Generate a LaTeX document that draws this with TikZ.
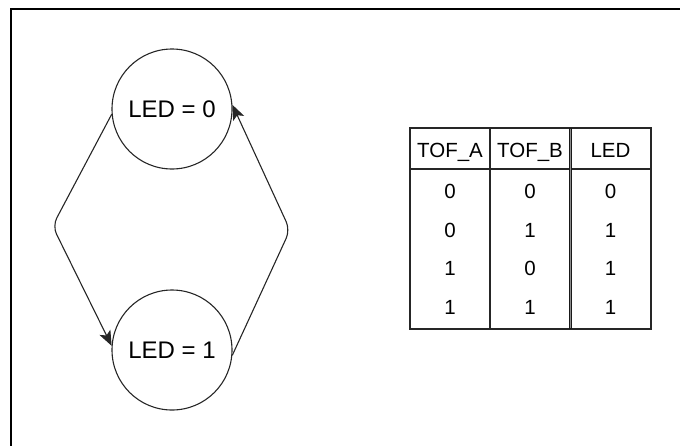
\documentclass[tikz,border=0pt]{standalone}
\usepackage{fontspec}
\setmainfont{Liberation Sans}
\usetikzlibrary{arrows.meta}
\begin{document}
\begin{tikzpicture}[x=1pt,y=-1pt,
  state/.style={draw=black!85,line width=1.1pt,circle,minimum size=120pt,inner sep=0pt,font=\fontsize{24}{28}\selectfont},
  cell/.style={inner sep=0pt,anchor=base,font=\fontsize{20.5}{24}\selectfont},
  grid/.style={draw=black!85,line width=1.2pt},
  flow/.style={draw=black!85,line width=1.1pt,rounded corners=9pt,-{Stealth[length=15pt,width=12pt,inset=3.5pt]}}]
  \clip (0,0) rectangle (680,445);
  % frame running off the page on the right and bottom
  \draw[black,line width=1.6pt] (11,9) rectangle (720,480);

  % state machine
  \node[state] (off) at (172,109) {LED = 0};
  \node[state] (on) at (172,350) {LED = 1};
  \coordinate (lbend) at (52.5,226);
  \coordinate (rbend) at (290,230);
  \draw[flow] (off.185) -- (lbend) -- (on.176);
  \draw[flow] (on.355) -- (rbend) -- (off.4);

  % truth table
  \draw[grid] (410,128) rectangle (651,329);
  \draw[grid] (410,169) -- (651,169);
  \draw[grid] (490,128) -- (490,329);
  \draw[black!90,line width=3pt] (570.1,128) -- (570.1,329);
  \draw[black!45,line width=0.6pt] (570.1,128.6) -- (570.1,328.4);

  \node[cell] (ha) at (450,157.5) {TOF\_A};
  \node[cell] (hb) at (530,157.5) {TOF\_B};
  \node[cell] (hl) at (610.5,157.5) {LED};

  \foreach \r/\a/\b/\l [count=\i] in {198.5/0/0/0, 237/0/1/1, 275.5/1/0/1, 314/1/1/1}{
    \node[cell] (a\i) at (450,\r) {\a};
    \node[cell] (b\i) at (530,\r) {\b};
    \node[cell] (l\i) at (610.5,\r) {\l};
  }
\end{tikzpicture}
\end{document}
